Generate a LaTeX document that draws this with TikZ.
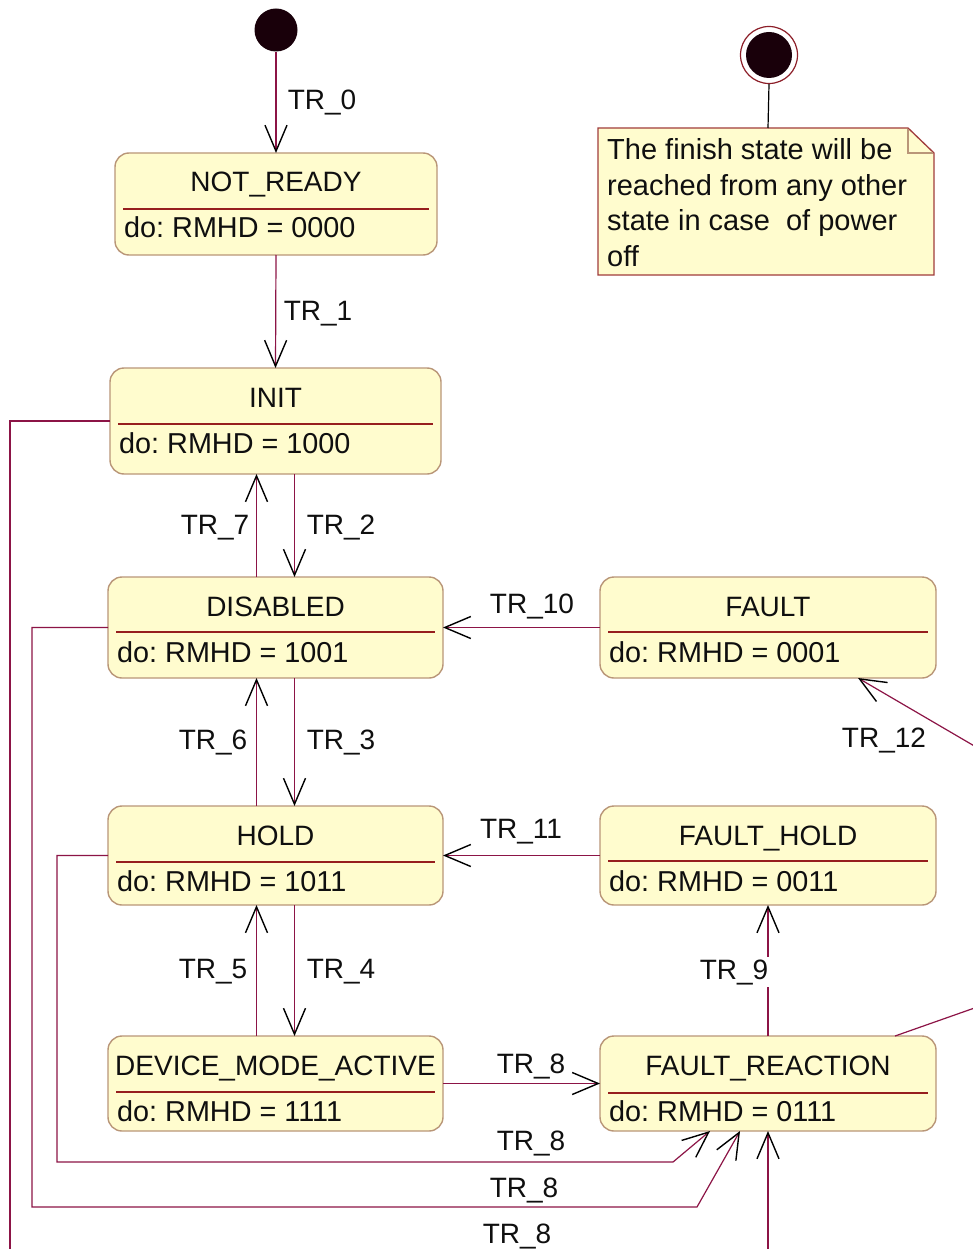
\documentclass[tikz,border=0pt]{standalone}
\usepackage{fontspec}
\setmainfont{Liberation Sans}
\usetikzlibrary{arrows.meta}
\definecolor{statefill}{RGB}{255,252,206}
\definecolor{stateborder}{RGB}{185,150,120}
\definecolor{sepcol}{RGB}{150,30,30}
\definecolor{conncol}{RGB}{140,20,70}
\definecolor{notebord}{RGB}{160,60,60}
\definecolor{txtcol}{RGB}{15,15,15}
\definecolor{dotcol}{RGB}{25,0,10}
\definecolor{fincol}{RGB}{140,30,40}
\tikzset{
  statebox/.style={draw=stateborder, fill=statefill, line width=1.4pt, rounded corners=14pt, inner sep=0pt, outer sep=0pt},
  sepline/.style={draw=sepcol, line width=1.2pt},
  lbl/.style={font=\fontsize{28}{32}\selectfont\frenchspacing, text=txtcol, inner sep=0pt, anchor=base},
  dolbl/.style={lbl, font=\fontsize{28.8}{32}\selectfont\frenchspacing},
  notelbl/.style={lbl, font=\fontsize{29}{32}\selectfont\frenchspacing, anchor=base west},
  conn/.style={draw=conncol, line width=1.2pt, -{Straight Barb[length=26pt,width=22pt,color=black,line width=1.4pt]}},
}
\newcommand\umlstate[8]{%
  \node[statebox, minimum width={(#4-#2)*1pt}, minimum height={(#5-#3)*1pt}] (#1) at ({(#2+#4)/2},{(#3+#5)/2}) {};
  \node[lbl] (#1-title) at ({(#2+#4)/2},{#3+39}) {#7};
  \draw[sepline] ({#2+8},{#3+#6}) -- ({#4-8},{#3+#6});
  \node[dolbl, anchor=base west] (#1-do) at ({#2+9},{#3+85}) {#8};
}
\begin{document}
\begin{tikzpicture}[x=1pt, y=-1pt]
\useasboundingbox (0,0) rectangle (973,1249);
\clip (0,0) rectangle (973,1249);
\fill[white] (0,0) rectangle (973,1249);

% states
\umlstate{notready}{115}{153}{437}{255}{56}{NOT\_READY}{do: RMHD = 0000}
\umlstate{init}{110}{368}{441}{474}{56}{INIT}{do: RMHD = 1000}
\umlstate{disabled}{108}{577}{443}{678}{55}{DISABLED}{do: RMHD = 1001}
\umlstate{fault}{600}{577}{936}{678}{55}{FAULT}{do: RMHD = 0001}
\umlstate{hold}{108}{806}{443}{905}{56}{HOLD}{do: RMHD = 1011}
\umlstate{faulthold}{600}{806}{936}{905}{55}{FAULT\_HOLD}{do: RMHD = 0011}
\umlstate{dma}{108}{1036}{443}{1131}{56}{DEVICE\_MODE\_ACTIVE}{do: RMHD = 1111}
\umlstate{fr}{600}{1036}{936}{1131}{57}{FAULT\_REACTION}{do: RMHD = 0111}

% start and finish
\node[circle, fill=dotcol, minimum size=43pt, inner sep=0pt] (start) at (276,30) {};
\node[circle, draw=fincol, line width=1.2pt, minimum size=57pt, inner sep=0pt] (finish) at (769,55) {};
\node[circle, fill=dotcol, minimum size=46pt, inner sep=0pt] (finishcore) at (finish.center) {};

% note
\fill[statefill] (598,128) -- (908,128) -- (934,153) -- (934,275) -- (598,275) -- cycle;
\draw[notebord, line width=1.3pt] (598,128) -- (908,128) -- (934,153) -- (934,275) -- (598,275) -- cycle;
\draw[stateborder, line width=1.2pt] (908,129) -- (908,153) -- (933,153);
\coordinate (notetop) at (768,128);
\node[notelbl] (note1) at (607,160) {The finish state will be};
\node[notelbl] (note2) at (607,195.5) {reached from any other};
\node[notelbl] (note3) at (607,231) {state in case\ \ of power};
\node[notelbl] (note4) at (607,266.5) {off};
\draw[black, line width=1.2pt] (finish.south) -- (notetop);

% transitions
\draw[conn] (start) -- (notready.north);
\draw[conn] (notready.south) -- (init.north);
\draw[conn] ([xshift=-19pt]disabled.north) -- ([xshift=-19pt]init.south);
\draw[conn] ([xshift=19pt]init.south) -- ([xshift=19pt]disabled.north);
\draw[conn] ([xshift=-19pt]hold.north) -- ([xshift=-19pt]disabled.south);
\draw[conn] ([xshift=19pt]disabled.south) -- ([xshift=19pt]hold.north);
\draw[conn] ([xshift=-19pt]dma.north) -- ([xshift=-19pt]hold.south);
\draw[conn] ([xshift=19pt]hold.south) -- ([xshift=19pt]dma.north);
\draw[conn] (fault.west) -- (disabled.east);
\draw[conn] (faulthold.west) -- (hold.east);
\draw[conn] (dma.east) -- (fr.west);
\draw[conn] (fr.north) -- (faulthold.south);
\draw[conn] ([xshift=127pt]fr.north) -- (1000,999) -- (1000,761) -- ([xshift=90pt]fault.south);
\draw[conn] (hold.west) -| (57,1162) -- (673,1162) -- ([xshift=-58pt]fr.south);
\draw[conn] (disabled.west) -| (32,1207) -- (697,1207) -- ([xshift=-28pt]fr.south);
\draw[conn] (init.west) -| (10,1262) -- (768,1262) -- (fr.south);

% labels
\node[lbl] (l0) at (322,110) {TR\_0};
\node[lbl] (l1) at (318,320) {TR\_1};
\node[lbl] (l7) at (215,534) {TR\_7};
\node[lbl] (l2) at (341,534) {TR\_2};
\node[lbl] (l10) at (532,613) {TR\_10};
\node[lbl] (l6) at (213,749) {TR\_6};
\node[lbl] (l3) at (341,749) {TR\_3};
\node[lbl] (l12) at (884,747) {TR\_12};
\node[lbl] (l11) at (521,838) {TR\_11};
\node[lbl] (l5) at (213,978) {TR\_5};
\node[lbl] (l4) at (341,978) {TR\_4};
\node[lbl, fill=white, inner sep=2pt] (l9) at (734,979) {TR\_9};
\node[lbl] (l8a) at (531,1073) {TR\_8};
\node[lbl] (l8b) at (531,1150) {TR\_8};
\node[lbl] (l8c) at (524,1197) {TR\_8};
\node[lbl] (l8d) at (517,1243) {TR\_8};
\end{tikzpicture}
\end{document}
